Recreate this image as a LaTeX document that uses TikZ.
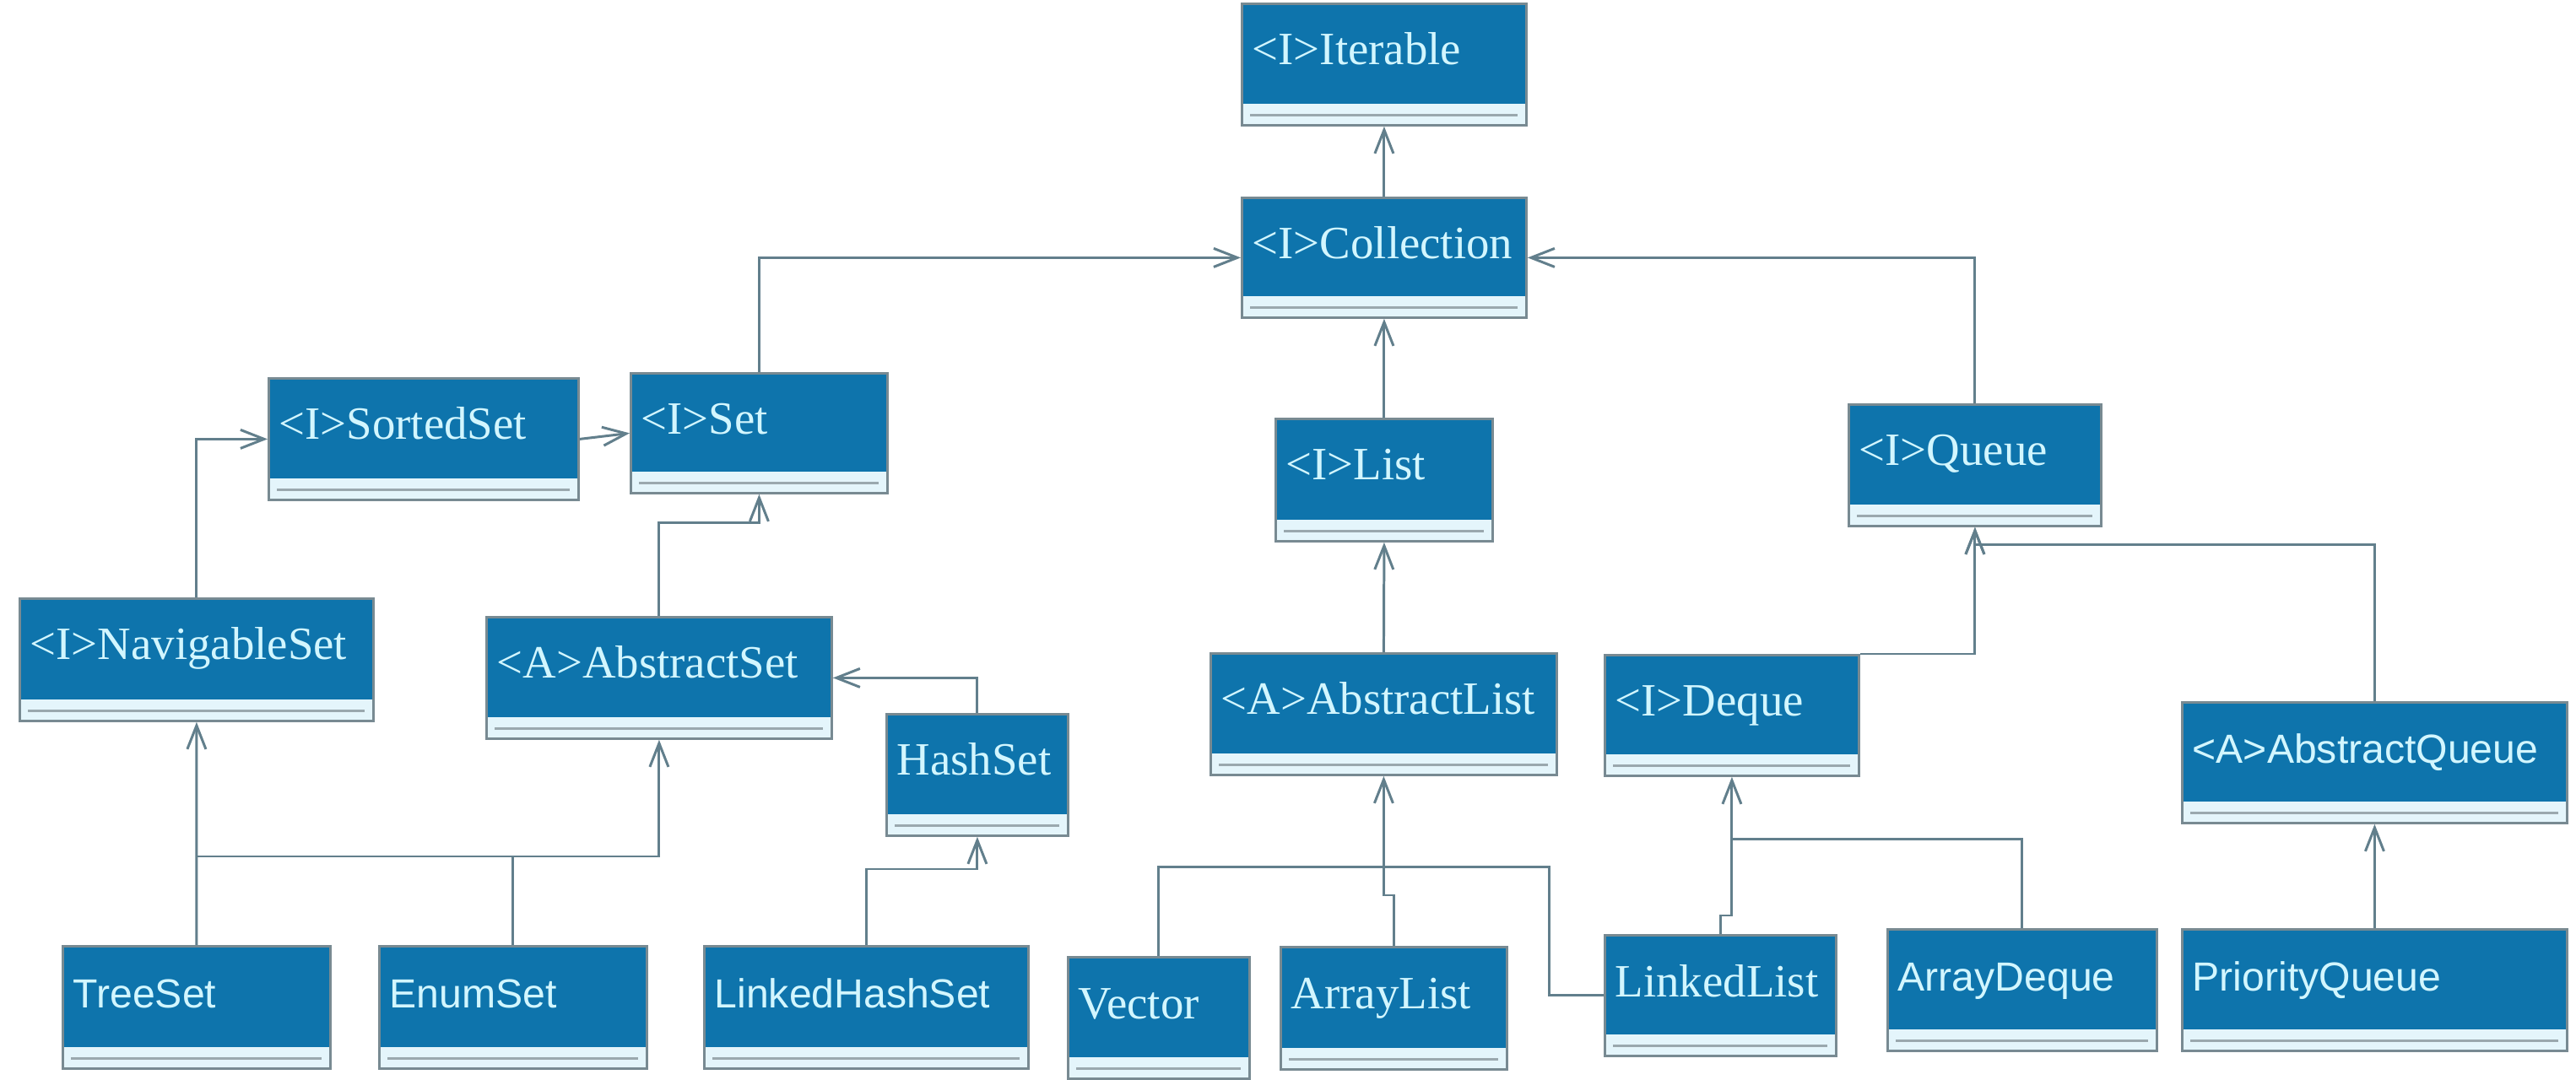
\documentclass[tikz,border=0pt]{standalone}
\usepackage{fontspec}
\setmainfont{Liberation Serif}
\newfontfamily\umlsans{Liberation Sans}
\usetikzlibrary{arrows.meta,calc}
\definecolor{boxblue}{HTML}{0E74AC}
\definecolor{boxtext}{HTML}{D2F6FF}
\definecolor{compfill}{HTML}{E4F5FB}
\definecolor{compline}{HTML}{9AA8AE}
\definecolor{boxedge}{HTML}{788A92}
\definecolor{wire}{HTML}{627F8C}
\tikzset{
  umlbox/.style={rectangle, draw=boxedge, line width=0.8pt, fill=boxblue, inner sep=0pt, anchor=north west,
    path picture={
      \fill[compfill] (path picture bounding box.south west) rectangle ([yshift=0.25cm]path picture bounding box.south east);
      \draw[compline, line width=0.9pt] ([xshift=0.1cm,yshift=0.12cm]path picture bounding box.south west) -- ([xshift=-0.1cm,yshift=0.12cm]path picture bounding box.south east);
    }},
  serifname/.style={text=boxtext, inner sep=0pt, anchor=base west, font=\fontsize{15.6}{16}\selectfont},
  sansname/.style={text=boxtext, inner sep=0pt, anchor=base west, font=\umlsans\fontsize{13.7}{14}\selectfont},
  gen/.style={draw=wire, line width=0.85pt, -{Straight Barb[length=0.28cm,width=0.22cm]}},
  wireline/.style={draw=wire, line width=0.85pt},
}
% name, left, top, right, bottom (cm), text style, text
\newcommand\umlcls[7]{%
  \node[umlbox, minimum width={#4cm-#2cm}, minimum height={#5cm-#3cm}] (#1) at (#2,-#3) {};
  \node[#6] (#1-t) at ($(#1.north west)+(0.13,-0.74)$) {#7};
}
\begin{document}
\begin{tikzpicture}
\useasboundingbox[fill=white] (0,0) rectangle (30.52,-12.80);

\umlcls{Iterable}{14.70}{0.03}{18.07}{1.47}{serifname}{<I>Iterable}
\umlcls{Collection}{14.70}{2.33}{18.07}{3.75}{serifname}{<I>Collection}
\umlcls{SortedSet}{3.17}{4.47}{6.84}{5.91}{serifname}{<I>SortedSet}
\umlcls{Set}{7.46}{4.41}{10.50}{5.83}{serifname}{<I>Set}
\umlcls{List}{15.10}{4.95}{17.67}{6.40}{serifname}{<I>List}
\umlcls{Queue}{21.89}{4.78}{24.88}{6.22}{serifname}{<I>Queue}
\umlcls{NavigableSet}{0.22}{7.08}{4.41}{8.53}{serifname}{<I>NavigableSet}
\umlcls{AbstractSet}{5.75}{7.30}{9.84}{8.74}{serifname}{<A>AbstractSet}
\umlcls{HashSet}{10.49}{8.45}{12.64}{9.89}{serifname}{HashSet}
\umlcls{AbstractList}{14.33}{7.73}{18.43}{9.17}{serifname}{<A>AbstractList}
\umlcls{Deque}{19.00}{7.75}{22.01}{9.18}{serifname}{<I>Deque}
\umlcls{AbstractQueue}{25.84}{8.31}{30.40}{9.74}{sansname}{<A>AbstractQueue}
\umlcls{TreeSet}{0.73}{11.20}{3.90}{12.65}{sansname}{TreeSet}
\umlcls{EnumSet}{4.48}{11.20}{7.65}{12.65}{sansname}{EnumSet}
\umlcls{LinkedHashSet}{8.33}{11.20}{12.17}{12.65}{sansname}{LinkedHashSet}
\umlcls{Vector}{12.64}{11.33}{14.79}{12.77}{serifname}{Vector}
\umlcls{ArrayList}{15.16}{11.21}{17.84}{12.66}{serifname}{ArrayList}
\umlcls{LinkedList}{19.00}{11.07}{21.74}{12.50}{serifname}{LinkedList}
\umlcls{ArrayDeque}{22.35}{11.00}{25.54}{12.44}{sansname}{ArrayDeque}
\umlcls{PriorityQueue}{25.84}{11.00}{30.40}{12.44}{sansname}{PriorityQueue}

% top level
\draw[gen] (Collection.north) -- (Iterable.south);
\draw[gen] (Set.north) |- (Collection.west);
\draw[gen] (Queue.north) |- (Collection.east);
\draw[gen] (List.north) -- (Collection.south);

% sets
\draw[gen] (SortedSet.east) -- (Set.west);
\draw[gen] (NavigableSet.north) |- (SortedSet.west);
\draw[gen] (AbstractSet.north) -- ++(0,1.10) -| (Set.south);
\draw[gen] (HashSet.north) |- (AbstractSet.east);
\draw[gen] (TreeSet.north) -- (NavigableSet.south);
\coordinate (setbus) at ($(TreeSet.north)+(0,1.05)$);
\draw[gen] (setbus) -| (AbstractSet.south);
\draw[wireline] (EnumSet.north) -- (EnumSet.north |- setbus);
\draw[gen] (LinkedHashSet.north) -- ++(0,0.90) -| (HashSet.south);

% lists
\draw[gen] (AbstractList.north) -- (List.south);
\coordinate (listbus) at ($(AbstractList.south)+(0,-1.08)$);
\draw[gen] (listbus) -- (AbstractList.south);
\draw[wireline] (Vector.north) |- (listbus);
\draw[wireline] (LinkedList.west) -- ++(-0.65,0) |- (listbus);
\draw[wireline] (ArrayList.north) -- ++(0,0.60) -| (listbus);

% queues
\coordinate (dequebus) at ($(Deque.south)+(0,-0.74)$);
\draw[gen] (dequebus) -- (Deque.south);
\draw[wireline] (ArrayDeque.north) |- (dequebus);
\draw[wireline] (LinkedList.north) -- ++(0,0.22) -| (dequebus);
\draw[gen] (Deque.north east) -| (Queue.south);
\draw[gen] (AbstractQueue.north) -- ++(0,1.85) -| (Queue.south);
\draw[gen] (PriorityQueue.north) -- (AbstractQueue.south);
\end{tikzpicture}
\end{document}
